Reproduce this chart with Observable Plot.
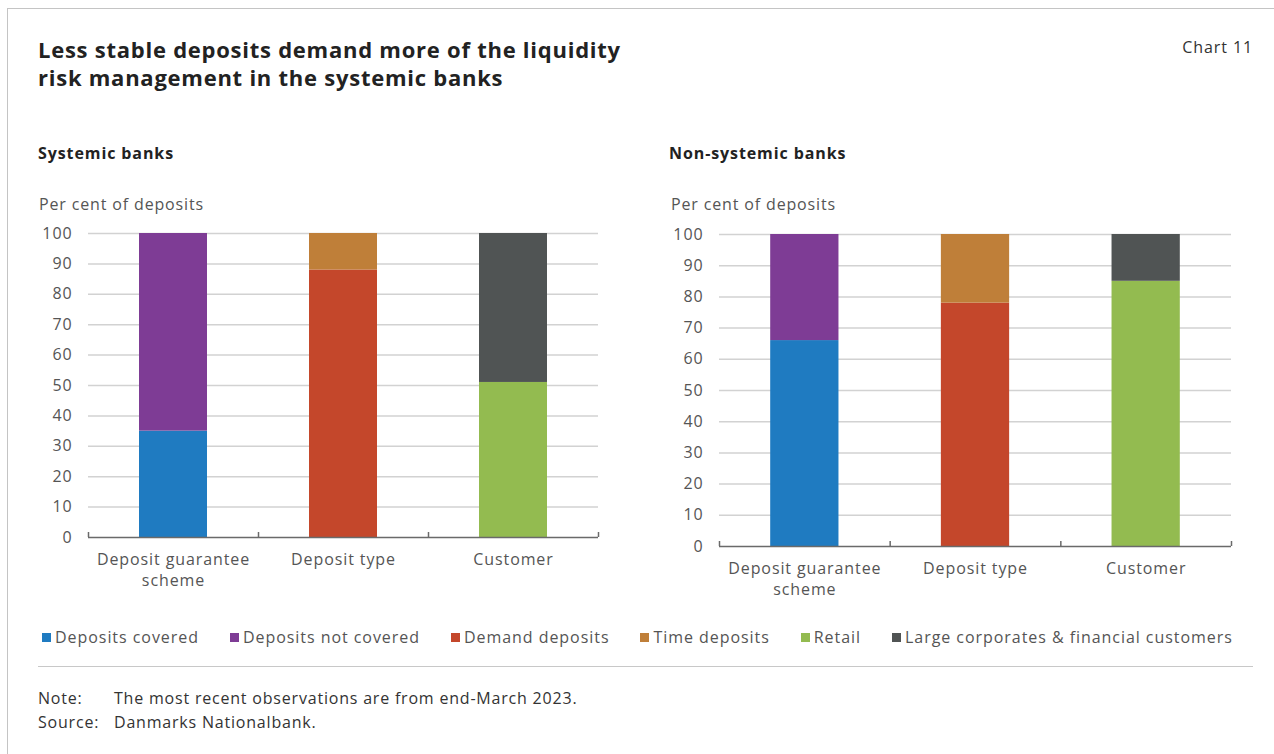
<!DOCTYPE html>
<html>
<head>
<meta charset="utf-8">
<script src="https://cdn.jsdelivr.net/npm/d3@7"></script>
<script src="https://cdn.jsdelivr.net/npm/@observablehq/plot@0.6"></script>
<style>
  html, body { margin: 0; padding: 0; background: #fff; }
  body { width: 1274px; height: 754px; position: relative; overflow: hidden; font-family: "Open Sans", sans-serif; color: #222; }
  .abs { position: absolute; white-space: nowrap; }
  .frame-top { position: absolute; left: 7px; top: 8px; width: 1267px; height: 0; border-top: 1.5px solid #c4c4c4; }
  .frame-left { position: absolute; left: 7px; top: 8px; width: 0; height: 746px; border-left: 1.5px solid #c4c4c4; }
  .title { left: 38px; top: 35px; font-size: 22px; line-height: 28px; font-weight: 700; color: #222; letter-spacing: 0.75px; }
  .chartno { right: 21px; top: 37px; font-size: 16px; line-height: 20px; color: #333; letter-spacing: 0.9px; }
  .sub { font-size: 16px; line-height: 20px; font-weight: 700; color: #222; top: 143px; letter-spacing: 0.9px; }
  .unit { font-size: 16px; line-height: 20px; color: #555; top: 194px; letter-spacing: 0.85px; }
  .legend { left: 42px; top: 626px; font-size: 16px; line-height: 22px; color: #555; display: flex; align-items: center; letter-spacing: 0.95px; }
  .legend .item { display: flex; align-items: center; margin-right: 31px; }
  .legend .sw { width: 9px; height: 9px; margin-right: 4px; }
  .rule { position: absolute; left: 38px; top: 666px; width: 1215px; height: 0; border-top: 1.5px solid #c8c8c8; }
  .note { left: 38px; font-size: 16px; line-height: 20px; color: #333; letter-spacing: 0.8px; }
  .note span.k { display: inline-block; width: 76px; }
  .plot { position: absolute; }
</style>
</head>
<body>
<div class="frame-top"></div>
<div class="frame-left"></div>
<div class="abs title">Less stable deposits demand more of the liquidity<br>risk management in the systemic banks</div>
<div class="abs chartno">Chart 11</div>
<div class="abs sub" style="left:38px">Systemic banks</div>
<div class="abs sub" style="left:669px">Non-systemic banks</div>
<div class="abs unit" style="left:39px">Per cent of deposits</div>
<div class="abs unit" style="left:671px">Per cent of deposits</div>
<div id="p1" class="plot" style="left:30px; top:220px;"></div>
<div id="p2" class="plot" style="left:660px; top:220px;"></div>
<div id="legend" class="abs legend"></div>
<div class="rule"></div>
<div class="abs note" style="top:688px"><span class="k">Note:</span>The most recent observations are from end-March 2023.</div>
<div class="abs note" style="top:712px"><span class="k">Source:</span>Danmarks Nationalbank.</div>
<script>
// ---- Data ----
const categories = ["Deposit guarantee\nscheme", "Deposit type", "Customer"];
const seriesNames = ["Deposits covered", "Deposits not covered", "Demand deposits", "Time deposits", "Retail", "Large corporates & financial customers"];
const seriesCategory = [0, 0, 1, 1, 2, 2];
const seriesColors = ["#1f7bc1", "#7e3c95", "#c4472b", "#bf7f39", "#93bb50", "#505454"];
const systemicValues = [35, 65, 88, 12, 51, 49];
const nonSystemicValues = [66, 34, 78, 22, 85, 15];
const yTicks = [0, 10, 20, 30, 40, 50, 60, 70, 80, 90, 100];

function buildRows(values) {
  const cum = [0, 0, 0];
  return values.map((v, i) => {
    const c = seriesCategory[i];
    const row = {series: seriesNames[i], cat: c, y1: cum[c], y2: cum[c] + v};
    cum[c] += v;
    return row;
  });
}

function makeChart(values, opts) {
  const rows = buildRows(values);
  const plotH = opts.height - opts.marginTop - opts.marginBottom;
  const tickUnits = 5 / (plotH / 100);
  return Plot.plot({
    width: opts.width,
    height: opts.height,
    marginLeft: opts.marginLeft,
    marginRight: 12,
    marginTop: opts.marginTop,
    marginBottom: opts.marginBottom,
    style: {fontFamily: "Open Sans, sans-serif", fontSize: "16px", color: "#555", background: "transparent", letterSpacing: "0.9px"},
    x: {domain: [0, categories.length], axis: null},
    y: {domain: [0, 100], axis: null},
    color: {domain: seriesNames, range: seriesColors},
    marks: [
      Plot.gridY(yTicks.filter(d => d > 0), {stroke: "#d2d2d2", strokeOpacity: 1, strokeWidth: 1.5}),
      Plot.rect(rows, {x1: d => d.cat + 0.3, x2: d => d.cat + 0.7, y1: "y1", y2: "y2", fill: "series"}),
      Plot.ruleY([0], {stroke: "#6a6a6a", strokeWidth: 1.5}),
      Plot.ruleX(d3.range(categories.length + 1), {y1: 0, y2: tickUnits, stroke: "#6a6a6a", strokeWidth: 1.5}),
      Plot.axisY({ticks: yTicks, tickSize: 0, tickPadding: 16, label: null, fill: "#555"}),
      Plot.axisX({ticks: categories.map((_, i) => i + 0.5), tickFormat: d => categories[Math.floor(d)], tickSize: 0, tickPadding: 13, label: null, lineHeight: 1.3, fill: "#555"})
    ]
  });
}

document.getElementById("p1").appendChild(makeChart(systemicValues, {width: 580, height: 390, marginLeft: 58, marginTop: 13, marginBottom: 73}));
document.getElementById("p2").appendChild(makeChart(nonSystemicValues, {width: 583, height: 390, marginLeft: 59, marginTop: 14, marginBottom: 64}));

// ---- Legend ----
const lg = document.getElementById("legend");
seriesNames.forEach((name, i) => {
  const it = document.createElement("div");
  it.className = "item";
  it.innerHTML = `<div class="sw" style="background:${seriesColors[i]}"></div><span>${name.replace("&", "&amp;")}</span>`;
  lg.appendChild(it);
});
</script>
</body>
</html>
